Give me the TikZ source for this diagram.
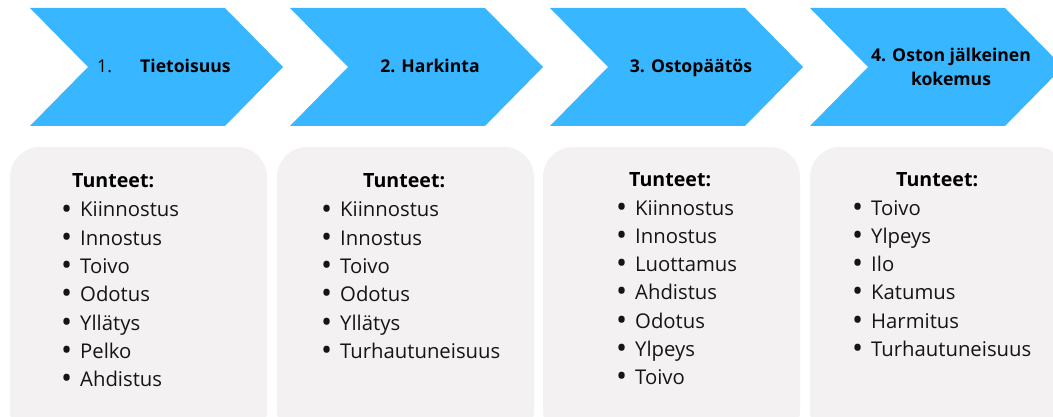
\documentclass[tikz,border=0pt]{standalone}
\usepackage{fontspec}
\setmainfont{Open Sans}
\definecolor{chevblue}{HTML}{38B6FF}
\definecolor{boxgray}{HTML}{F3F1F2}
\definecolor{ink}{HTML}{151515}
\newcommand{\bul}{\makebox[19pt][l]{\raisebox{-0.1em}{\scalebox{1.45}{\textbullet}}}}
\begin{document}
\begin{tikzpicture}[x=1pt,y=-1pt,
  chev/.style={fill=chevblue},
  card/.style={fill=boxgray, rounded corners=30pt},
  stage/.style={inner sep=0pt, font=\fontsize{17.6}{24}\selectfont\bfseries, text=black, align=center},
  head/.style={inner sep=0pt, anchor=base west, font=\fontsize{19.6}{22}\selectfont\bfseries, text=black},
  item/.style={inner sep=0pt, anchor=base west, font=\fontsize{20.3}{22}\selectfont, text=ink}]
\useasboundingbox (0,0) rectangle (1053,417);
% chevrons
\foreach \x in {30,290,550,810}{
  \fill[chev] (\x,8) -- (\x+195,8) -- (\x+253,67) -- (\x+195,126) -- (\x,126) -- (\x+58,67) -- cycle;
}
% cards
\foreach \x in {10,277,543,810}{
  \fill[card] (\x,147) rectangle (\x+257,440);
}
% stage labels
\node[stage, anchor=base west, font=\fontsize{17.6}{24}\selectfont] (s1n) at (97,73) {1.};
\node[stage, anchor=base west] (s1) at (140,73) {Tietoisuus};
\node[stage, anchor=base] (s2) at (430,73) {2. Harkinta};
\node[stage, anchor=base] (s3) at (691,73) {3. Ostopäätös};
\node[stage, anchor=base] (s4a) at (951,62) {4. Oston jälkeinen};
\node[stage, anchor=base] (s4b) at (951,86) {kokemus};
% card headings
\node[head] (h1) at (72,188) {Tunteet:};
\node[head] (h2) at (363,188) {Tunteet:};
\node[head] (h3) at (629,186) {Tunteet:};
\node[head] (h4) at (896,186) {Tunteet:};
% lists
\foreach [count=\i] \t in {Kiinnostus,Innostus,Toivo,Odotus,Yllätys,Pelko,Ahdistus}{
  \node[item] (a\i) at (61,217+28.3*\i-28.3) {\bul\t};
}
\foreach [count=\i] \t in {Kiinnostus,Innostus,Toivo,Odotus,Yllätys,Turhautuneisuus}{
  \node[item] (b\i) at (321,217+28.3*\i-28.3) {\bul\t};
}
\foreach [count=\i] \t in {Kiinnostus,Innostus,Luottamus,Ahdistus,Odotus,Ylpeys,Toivo}{
  \node[item] (c\i) at (616,215+28.3*\i-28.3) {\bul\t};
}
\foreach [count=\i] \t in {Toivo,Ylpeys,Ilo,Katumus,Harmitus,Turhautuneisuus}{
  \node[item] (d\i) at (852,215+28.3*\i-28.3) {\bul\t};
}
\end{tikzpicture}
\end{document}
